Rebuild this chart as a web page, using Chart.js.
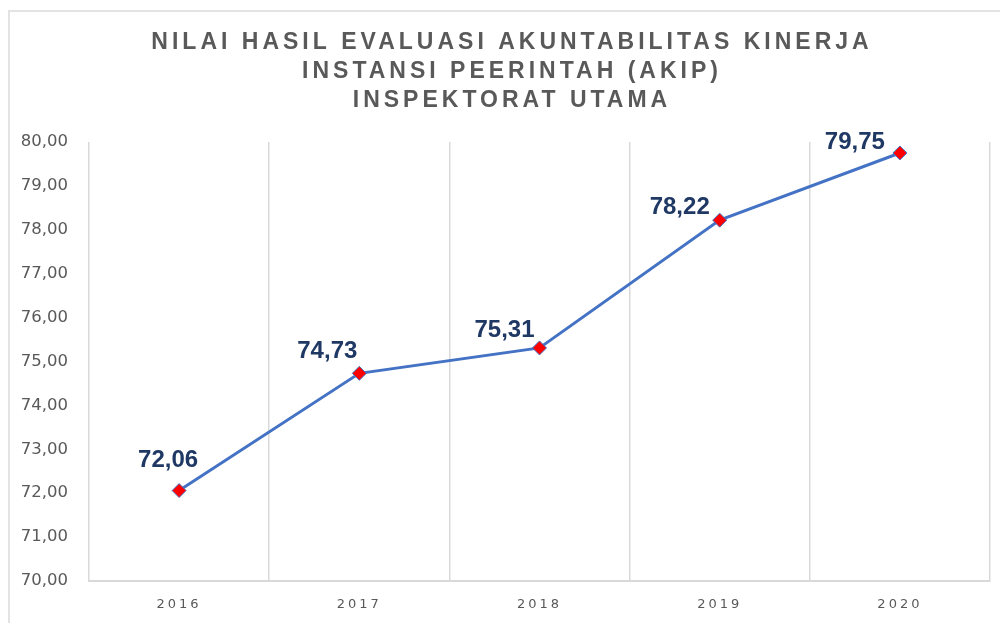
<!DOCTYPE html>
<html>
<head>
<meta charset="utf-8">
<script src="https://cdn.jsdelivr.net/npm/chart.js@4"></script>
<style>
  html, body { margin: 0; padding: 0; background: #fff; }
  #wrap { position: relative; width: 1000px; height: 623px; overflow: hidden; }
  #frame { position: absolute; left: 8px; top: 10px; width: 1100px; height: 700px;
           border-left: 2px solid #e3e3e3; border-top: 2px solid #e3e3e3; }
  #chart { position: absolute; left: 0; top: 0; }
</style>
</head>
<body>
<div id="wrap">
  <div id="frame"></div>
  <canvas id="chart" width="1000" height="623"></canvas>
</div>
<script>
// data
const years = ["2016", "2017", "2018", "2019", "2020"];
const nilai = [72.06, 74.73, 75.31, 78.22, 79.75];
const titleLines = [
  "NILAI HASIL EVALUASI AKUNTABILITAS KINERJA",
  "INSTANSI PEERINTAH (AKIP)",
  "INSPEKTORAT UTAMA"
];
const yMin = 70, yMax = 80;

// where each value label sits relative to its point (px)
const labelShift = [[-11, -30], [-32, -22], [-35, -18], [-40, -13], [-45, -11]];

const fmt = v => v.toFixed(2).replace(".", ",");

// title drawn by hand because it needs letter spacing
const titlePlugin = {
  id: "spacedTitle",
  afterDraw(chart) {
    const ctx = chart.ctx;
    ctx.save();
    ctx.font = "bold 23px 'Liberation Sans', Arial, sans-serif";
    ctx.letterSpacing = "4px";
    ctx.fillStyle = "#595959";
    ctx.textAlign = "center";
    ctx.textBaseline = "middle";
    const ys = [43, 72, 101];
    titleLines.forEach((t, i) => ctx.fillText(t, 512, ys[i]));
    ctx.restore();
  }
};

// value labels above the markers
const valueLabels = {
  id: "valueLabels",
  afterDatasetsDraw(chart) {
    const ctx = chart.ctx;
    const meta = chart.getDatasetMeta(0);
    ctx.save();
    ctx.font = "bold 24px 'Liberation Sans', Arial, sans-serif";
    ctx.fillStyle = "#1F3864";
    ctx.textAlign = "center";
    ctx.textBaseline = "middle";
    meta.data.forEach((pt, i) => {
      const [dx, dy] = labelShift[i];
      ctx.fillText(fmt(nilai[i]), pt.x + dx, pt.y + dy);
    });
    ctx.restore();
  }
};

// x tick labels are letter spaced too
const spacedXTicks = {
  id: "spacedXTicks",
  afterLayout(chart) {
    const s = chart.scales.x;
    if (s._spaced) return;
    const orig = s.drawLabels;
    s.drawLabels = function (area) {
      chart.ctx.save();
      chart.ctx.letterSpacing = "3px";
      orig.call(this, area);
      chart.ctx.restore();
    };
    s._spaced = true;
  }
};

new Chart(document.getElementById("chart"), {
  type: "line",
  data: {
    labels: years,
    datasets: [{
      data: nilai,
      borderColor: "#4472C4",
      borderWidth: 3,
      tension: 0,
      pointStyle: "rectRot",
      pointRadius: 7,
      pointHoverRadius: 7,
      pointBackgroundColor: "#FF0000",
      pointBorderColor: "#4472C4",
      pointBorderWidth: 1
    }]
  },
  options: {
    responsive: false,
    animation: false,
    layout: { padding: { top: 142, right: 10, left: 0, bottom: 0 } },
    plugins: {
      legend: { display: false },
      title: { display: false },
      tooltip: { enabled: false }
    },
    scales: {
      x: {
        offset: true,
        grid: { offset: true, color: "#d9d9d9", lineWidth: 1.5, drawTicks: false },
        border: { color: "#d9d9d9", width: 2 },
        ticks: {
          color: "#595959",
          font: { family: "'DejaVu Sans', sans-serif", size: 13 },
          padding: 16
        },
        afterFit(scale) { scale.height = 42; }
      },
      y: {
        min: yMin,
        max: yMax,
        grid: { display: false },
        border: { display: false },
        ticks: {
          stepSize: 1,
          color: "#595959",
          padding: 13,
          font: { family: "'DejaVu Sans', sans-serif", size: 16.5 },
          callback: v => fmt(v)
        },
        afterFit(scale) { scale.width = 89; }
      }
    }
  },
  plugins: [titlePlugin, valueLabels, spacedXTicks]
});
</script>
</body>
</html>
